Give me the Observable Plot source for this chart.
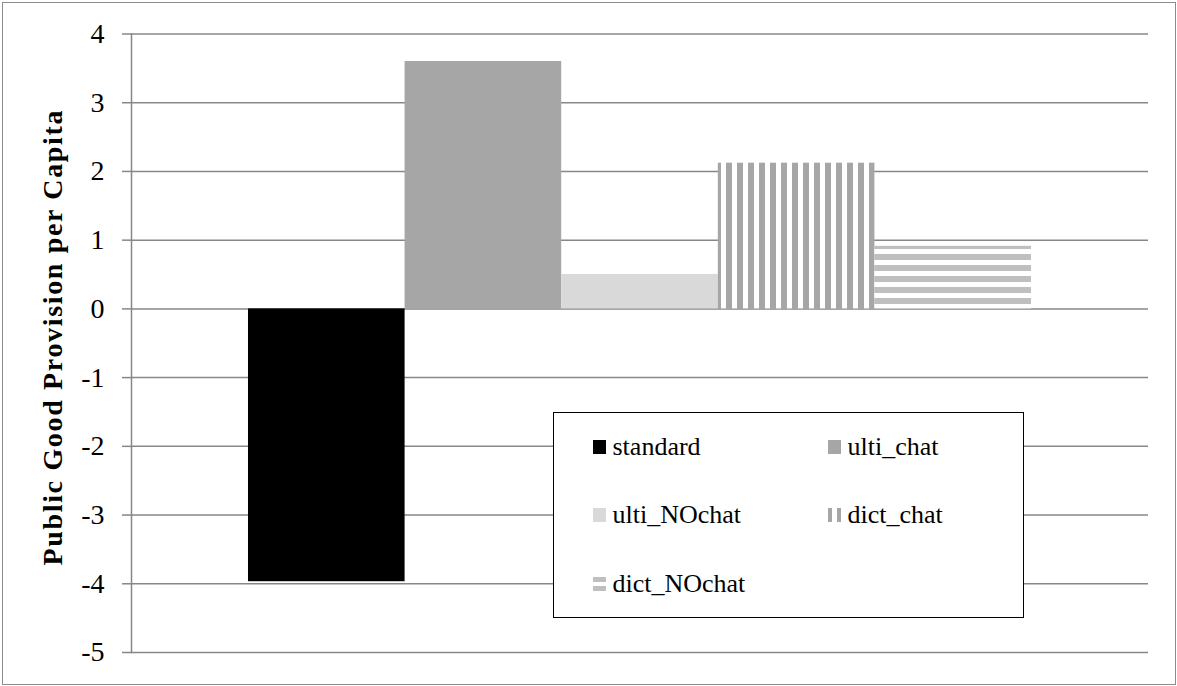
<!DOCTYPE html>
<html><head><meta charset="utf-8">
<script src="https://cdn.jsdelivr.net/npm/d3@7"></script>
<script src="https://cdn.jsdelivr.net/npm/@observablehq/plot@0.6"></script>
<style>
html,body{margin:0;padding:0;background:#fff;}
#wrap{position:relative;width:1177px;height:686px;overflow:hidden;font-family:"Liberation Serif","Times New Roman",serif;}
#chart{position:absolute;left:0;top:0;}
#border{position:absolute;left:2px;top:2px;width:1174px;height:683px;box-sizing:border-box;border:1.5px solid #8c8c8c;pointer-events:none;}
#legend{position:absolute;left:553px;top:412px;width:471px;height:206px;box-sizing:border-box;border:1.5px solid #000;background:#fff;}
.item{position:absolute;display:flex;align-items:center;font-size:26px;height:30px;line-height:30px;white-space:nowrap;color:#000;}
.item svg{margin-right:7px;flex:none;}
</style></head><body>
<div id="wrap"><div id="chart"></div><div id="legend"></div><div id="border"></div></div>
<script>
const series = ["standard", "ulti_chat", "ulti_NOchat", "dict_chat", "dict_NOchat"];
const values = [-3.97, 3.60, 0.50, 2.12, 0.91];
const yTicks = [-5, -4, -3, -2, -1, 0, 1, 2, 3, 4];
const yTitle = "Public Good Provision per Capita";
const fills = ["#000000", "#a6a6a6", "#d9d9d9", "url(#vstripes)", "url(#hstripes)"];

const data = series.map((s, i) => ({series: s, value: values[i]}));

function patternDefs() {
  const ns = "http://www.w3.org/2000/svg";
  const d = document.createElementNS(ns, "defs");
  d.innerHTML =
    '<pattern id="vstripes" patternUnits="userSpaceOnUse" x="0" y="0" width="11" height="11">' +
      '<rect width="11" height="11" fill="#fff"/><rect x="0" y="0" width="6" height="11" fill="#a6a6a6"/></pattern>' +
    '<pattern id="hstripes" patternUnits="userSpaceOnUse" x="0" y="0" width="11" height="11">' +
      '<rect width="11" height="11" fill="#fff"/><rect x="0" y="1" width="11" height="6" fill="#bfbfbf"/></pattern>';
  return d;
}

const gridColor = "#878787";

const chart = Plot.plot({
  width: 1177,
  height: 686,
  marginLeft: 131,
  marginRight: 29,
  marginTop: 33.5,
  marginBottom: 34,
  style: {fontFamily: "'Liberation Serif','Times New Roman',serif", fontSize: "28px", color: "#000", background: "transparent"},
  x: {type: "band", domain: series, paddingInner: 0, paddingOuter: 0.747, round: false, axis: null},
  y: {domain: [-5, 4], axis: null, label: null},
  color: {domain: series, range: fills},
  marks: [
    patternDefs,
    Plot.gridY(yTicks, {stroke: gridColor, strokeOpacity: 1, strokeWidth: 1.5}),
    Plot.barY(data, {x: "series", y: "value", fill: "series", inset: 0}),
    Plot.frame({anchor: "left", stroke: gridColor, strokeWidth: 1.5}),
    Plot.axisY(yTicks, {label: null, tickFormat: d => String(d), tickSize: 9, tickPadding: 18, stroke: gridColor, strokeWidth: 1.5, fill: "#000", fontSize: 28})
  ]
});

const svg = d3.select(chart);
svg.append("text")
  .attr("transform", "translate(62,338) rotate(-90)")
  .attr("text-anchor", "middle")
  .attr("font-family", "'Liberation Serif','Times New Roman',serif")
  .attr("font-weight", "bold")
  .attr("font-size", 28)
  .attr("fill", "#000")
  .attr("textLength", 455)
  .attr("lengthAdjust", "spacing")
  .text(yTitle);

document.getElementById("chart").appendChild(chart);

// Legend
const legend = d3.select("#legend");
const pos = [
  {left: 38.5, top: 18.5}, {left: 273.5, top: 18.5},
  {left: 38.5, top: 86.5}, {left: 273.5, top: 86.5},
  {left: 38.5, top: 155.5}
];
series.forEach((s, i) => {
  const item = legend.append("div").attr("class", "item")
    .style("left", pos[i].left + "px").style("top", pos[i].top + "px");
  const sw = item.append("svg").attr("width", 13).attr("height", 14);
  if (i === 3) {
    sw.append("rect").attr("x", 0).attr("width", 4).attr("height", 14).attr("fill", "#a6a6a6");
    sw.append("rect").attr("x", 9).attr("width", 4).attr("height", 14).attr("fill", "#a6a6a6");
  } else if (i === 4) {
    sw.append("rect").attr("y", 0).attr("width", 13).attr("height", 5).attr("fill", "#bfbfbf");
    sw.append("rect").attr("y", 9).attr("width", 13).attr("height", 5).attr("fill", "#bfbfbf");
  } else {
    sw.append("rect").attr("width", 13).attr("height", 14).attr("fill", fills[i]);
  }
  item.append("span").text(s);
});
</script>
</body></html>
